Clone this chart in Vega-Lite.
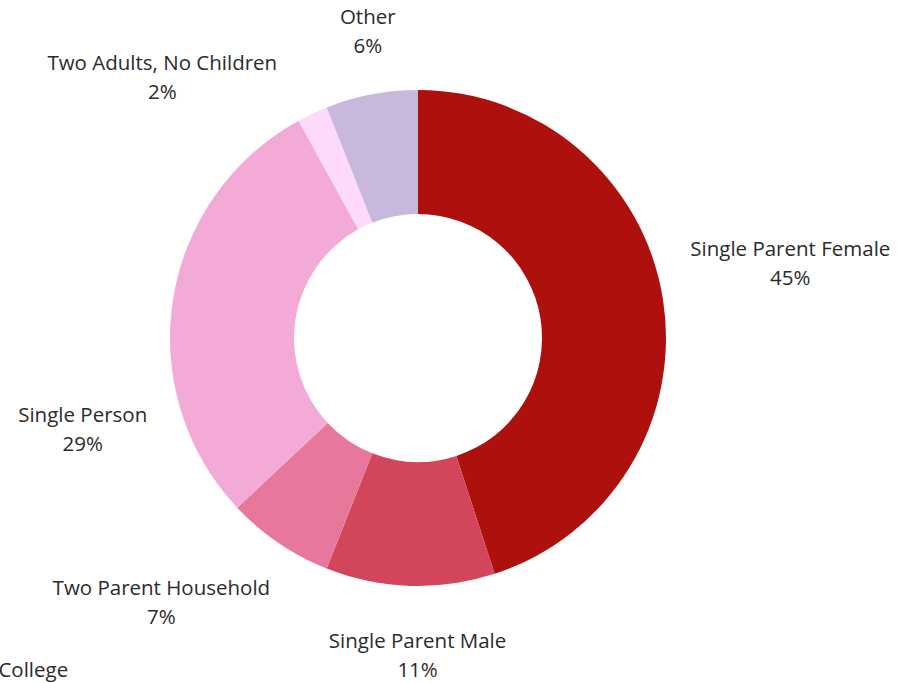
{
  "$schema": "https://vega.github.io/schema/vega-lite/v6.json",
  "width": 836,
  "height": 676,
  "autosize": "none",
  "padding": {"left": 0, "top": 0, "right": 78, "bottom": 7},
  "background": "white",
  "config": {"view": {"stroke": null}},
  "data": {
    "values": [
      {"category": "Single Parent Female", "value": 45, "order": 1},
      {"category": "Single Parent Male", "value": 11, "order": 2},
      {"category": "Two Parent Household", "value": 7, "order": 3},
      {"category": "College", "value": 0, "order": 4},
      {"category": "Single Person", "value": 29, "order": 5},
      {"category": "Two Adults, No Children", "value": 2, "order": 6},
      {"category": "Other", "value": 6, "order": 7}
    ]
  },
  "transform": [
    {"window": [{"op": "sum", "field": "value", "as": "cum"}], "sort": [{"field": "order"}], "frame": [null, 0]},
    {"calculate": "datum.cum - datum.value / 2", "as": "mid"},
    {"calculate": "datum.category + '\\n' + format(datum.value, 'd') + '%'", "as": "label"}
  ],
  "layer": [
    {
      "mark": {"type": "arc", "outerRadius": 248, "innerRadius": 124},
      "encoding": {
        "theta": {"field": "value", "type": "quantitative", "stack": true, "scale": {"domain": [0, 100]}},
        "order": {"field": "order", "type": "quantitative"},
        "color": {
          "field": "category",
          "type": "nominal",
          "legend": null,
          "scale": {
            "domain": ["Single Parent Female", "Single Parent Male", "Two Parent Household", "College", "Single Person", "Two Adults, No Children", "Other"],
            "range": ["#AE100E", "#D3455B", "#E7789B", "#E7789B", "#F4AAD6", "#FDDAFB", "#C7B8DC"]
          }
        }
      }
    },
    {
      "transform": [{"filter": "datum.category === 'Single Parent Female'"}],
      "mark": {"type": "text", "font": "Open Sans", "fontSize": 20.5, "lineHeight": 29, "lineBreak": "\n", "color": "#2b2b2b", "align": "center", "baseline": "middle", "dx": 76, "dy": -41},
      "encoding": {
        "theta": {"field": "mid", "type": "quantitative", "stack": null, "scale": {"domain": [0, 100]}},
        "radius": {"value": 300},
        "text": {"field": "label"}
      }
    },
    {
      "transform": [{"filter": "datum.category === 'Single Parent Male'"}],
      "mark": {"type": "text", "font": "Open Sans", "fontSize": 20.5, "lineHeight": 29, "lineBreak": "\n", "color": "#2b2b2b", "align": "center", "baseline": "middle", "dx": 9, "dy": 4},
      "encoding": {
        "theta": {"field": "mid", "type": "quantitative", "stack": null, "scale": {"domain": [0, 100]}},
        "radius": {"value": 300},
        "text": {"field": "label"}
      }
    },
    {
      "transform": [{"filter": "datum.category === 'Two Parent Household'"}],
      "mark": {"type": "text", "font": "Open Sans", "fontSize": 20.5, "lineHeight": 29, "lineBreak": "\n", "color": "#2b2b2b", "align": "center", "baseline": "middle", "dx": -88, "dy": 3},
      "encoding": {
        "theta": {"field": "mid", "type": "quantitative", "stack": null, "scale": {"domain": [0, 100]}},
        "radius": {"value": 300},
        "text": {"field": "label"}
      }
    },
    {
      "transform": [{"filter": "datum.category === 'College'"}],
      "mark": {"type": "text", "font": "Open Sans", "fontSize": 20.5, "lineHeight": 29, "lineBreak": "\n", "color": "#2b2b2b", "align": "center", "baseline": "middle", "dx": -166, "dy": 128},
      "encoding": {
        "theta": {"field": "mid", "type": "quantitative", "stack": null, "scale": {"domain": [0, 100]}},
        "radius": {"value": 300},
        "text": {"field": "label"}
      }
    },
    {
      "transform": [{"filter": "datum.category === 'Single Person'"}],
      "mark": {"type": "text", "font": "Open Sans", "fontSize": 20.5, "lineHeight": 29, "lineBreak": "\n", "color": "#2b2b2b", "align": "center", "baseline": "middle", "dx": -39, "dy": 125},
      "encoding": {
        "theta": {"field": "mid", "type": "quantitative", "stack": null, "scale": {"domain": [0, 100]}},
        "radius": {"value": 300},
        "text": {"field": "label"}
      }
    },
    {
      "transform": [{"filter": "datum.category === 'Two Adults, No Children'"}],
      "mark": {"type": "text", "font": "Open Sans", "fontSize": 20.5, "lineHeight": 29, "lineBreak": "\n", "color": "#2b2b2b", "align": "center", "baseline": "middle", "dx": -128, "dy": -3},
      "encoding": {
        "theta": {"field": "mid", "type": "quantitative", "stack": null, "scale": {"domain": [0, 100]}},
        "radius": {"value": 300},
        "text": {"field": "label"}
      }
    },
    {
      "transform": [{"filter": "datum.category === 'Other'"}],
      "mark": {"type": "text", "font": "Open Sans", "fontSize": 20.5, "lineHeight": 29, "lineBreak": "\n", "color": "#2b2b2b", "align": "center", "baseline": "middle", "dx": 6, "dy": -25},
      "encoding": {
        "theta": {"field": "mid", "type": "quantitative", "stack": null, "scale": {"domain": [0, 100]}},
        "radius": {"value": 300},
        "text": {"field": "label"}
      }
    }
  ]
}
